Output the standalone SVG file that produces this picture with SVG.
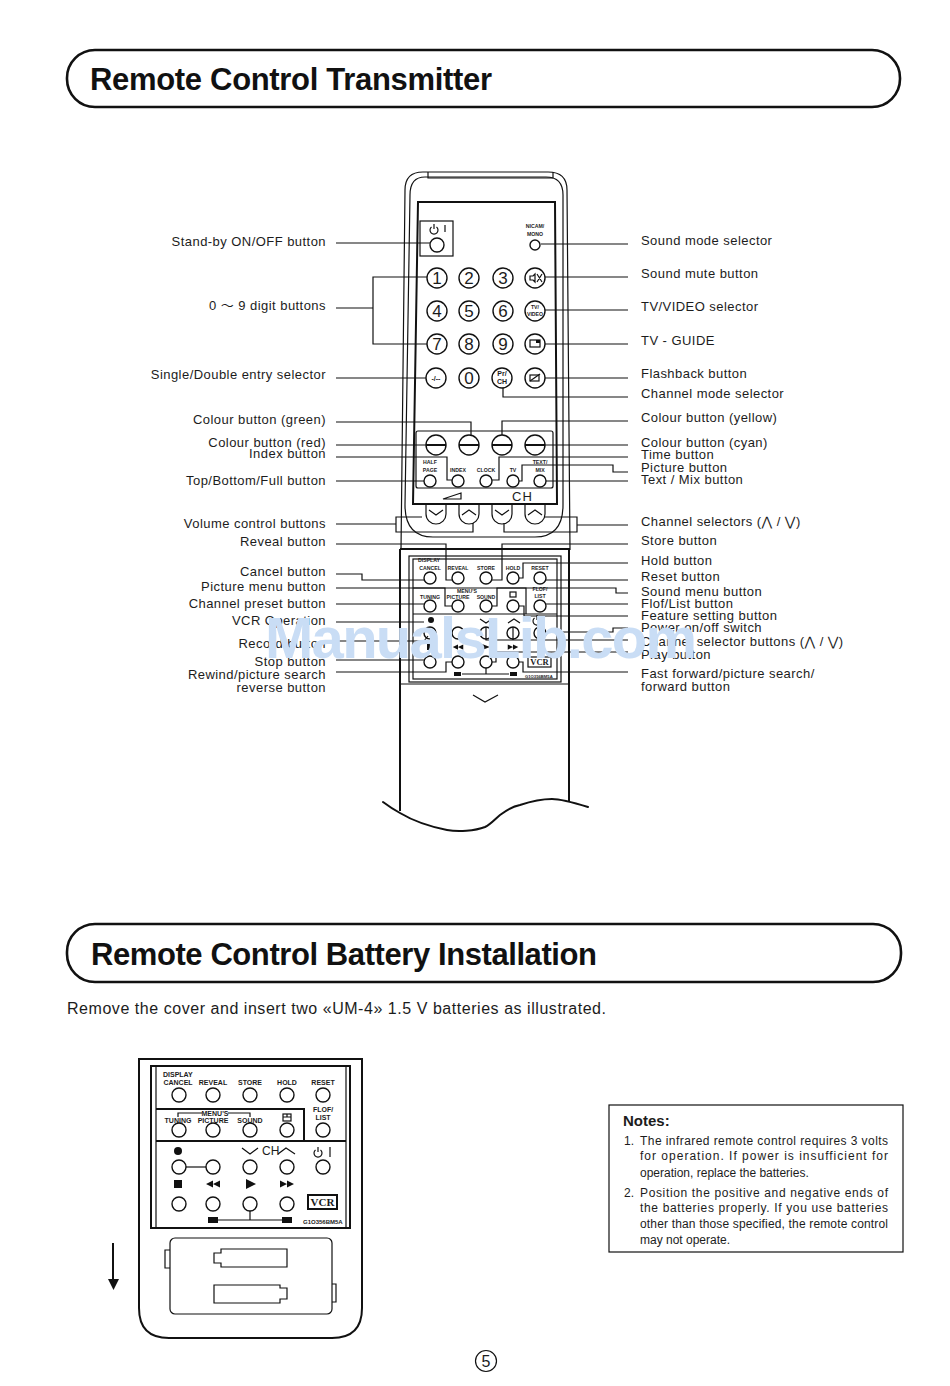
<svg xmlns="http://www.w3.org/2000/svg" width="950" height="1386" viewBox="0 0 950 1386">
<style>
text{font-family:"Liberation Sans","DejaVu Sans","Noto Sans CJK JP",sans-serif;fill:#1c1c1c}
.l{font-size:13px;text-anchor:end;letter-spacing:.45px}
.r{font-size:13px;letter-spacing:.45px}
.h{font-size:31px;font-weight:bold;fill:#111}
.n{font-size:12px}
.s{font-size:5.2px;font-weight:bold;text-anchor:middle}
.b{font-size:7px;font-weight:bold;text-anchor:middle}
.d{font-size:17px;text-anchor:middle}
.ln{fill:none;stroke:#111;stroke-width:1.2}
.th{fill:none;stroke:#111;stroke-width:2}
.fr{fill:none;stroke:#111;stroke-width:2.6}
.c{fill:#fff;stroke:#111;stroke-width:1.4}
.f{fill:#111;stroke:none}
.wm{font-family:"Liberation Sans",sans-serif;font-size:58px;font-weight:bold;fill:#c9ddf5}
</style>
<defs>
<circle id="sb" r="6" class="c"/>
<circle id="lb" r="7" class="c"/>
<circle id="db" r="10" class="c"/>
<path id="ff" class="f" d="M-7-3.5 0 0-7 3.5ZM0-3.5 7 0 0 3.5Z"/>
<path id="rw" class="f" d="M7-3.5 0 0 7 3.5ZM0-3.5-7 0 0 3.5Z"/>
<g id="cb"><circle r="10" class="c"/><path d="M-10 0H10" class="th"/></g>
<path id="ub" class="ln" d="M-10-19V-9A10 10 0 0 0 10-9V-19"/>
<g id="pw"><path class="ln" d="M-2.5-3A4 4 0 1 0 2.5-3M0-6V-1"/></g>
</defs>
<rect width="950" height="1386" fill="#fff"/>

<g id="title-transmitter">
<rect x="67" y="50" width="833" height="57" rx="28" class="fr"/>
<text class="h" x="90" y="90" textLength="402">Remote Control Transmitter</text>
</g>

<g id="remote-body">
<path class="ln" d="M405 190Q405 172 423 172H548Q567 172 567 190L570 550M405 190L401 550M410 195Q410 177 425 177H546Q563 177 563 195V505Q563 537 535 537H433Q405 537 405 505Z"/>
<path class="ln" d="M428 172V178H553V172"/>
<path class="th" d="M418 202H555L557 504H413Z"/>
<rect x="420" y="221" width="33" height="35" class="ln"/>
<rect x="416" y="431" width="137" height="57" rx="2" class="ln"/>
<path class="th" d="M400 549H570"/>
<path class="th" d="M400 549V811M569 549V801"/>
<path class="ln" d="M401 684H569"/>
<path class="th" stroke-linecap="round" d="M383 802Q391 808 400 813C415 822 432 827 447 830C458 832 475 831 485 827C491 824 494 820 500 815C508 809 514 806 520 805C532 801 542 799 552 799C562 799 575 803 588 807"/>
<path class="ln" d="M473 695 485 702 498 695"/>
<rect x="409" y="556" width="152" height="126" class="ln"/>
<rect x="413" y="559" width="144" height="120" class="ln"/>
<path class="ln" d="M413 588H526V614M413 614H557"/>
<path class="ln" d="M443 499 461 493V499Z"/>
<text x="512" y="501" style="font-size:13px;letter-spacing:1px">CH</text>
</g>

<g id="top-buttons">
<use href="#lb" x="437" y="245"/><use href="#pw" x="434" y="230"/><path class="ln" d="M445 225V232"/>
<circle cx="535" cy="245" r="5" class="c"/>
<text class="s" x="535" y="228">NICAM/</text><text class="s" x="535" y="236">MONO</text>
<use href="#db" x="437" y="278"/><text class="d" x="437" y="284">1</text>
<use href="#db" x="469" y="278"/><text class="d" x="469" y="284">2</text>
<use href="#db" x="503" y="278"/><text class="d" x="503" y="284">3</text>
<use href="#db" x="535" y="278"/><path class="ln" d="M530 276H533L535 274V282L533 280H530ZM537 274 542 282M542 274 537 282"/>
<use href="#db" x="437" y="311"/><text class="d" x="437" y="317">4</text>
<use href="#db" x="469" y="311"/><text class="d" x="469" y="317">5</text>
<use href="#db" x="503" y="311"/><text class="d" x="503" y="317">6</text>
<use href="#db" x="535" y="311"/><text class="s" x="535" y="309">TV/</text><text class="s" x="535" y="316">VIDEO</text>
<use href="#db" x="437" y="344"/><text class="d" x="437" y="350">7</text>
<use href="#db" x="469" y="344"/><text class="d" x="469" y="350">8</text>
<use href="#db" x="503" y="344"/><text class="d" x="503" y="350">9</text>
<use href="#db" x="535" y="344"/><rect x="530" y="340" width="10" height="7" class="ln"/><rect x="536" y="340" width="4" height="3" class="f"/>
<use href="#db" x="436" y="378"/><text class="b" x="436" y="381">-/--</text>
<use href="#db" x="469" y="378"/><text class="d" x="469" y="384">0</text>
<use href="#db" x="502" y="378"/><text class="b" x="502" y="376">Pr/</text><text class="b" x="502" y="384">CH</text>
<use href="#db" x="535" y="378"/><rect x="530" y="375" width="9" height="6" class="ln"/><path class="ln" d="M530 381 540 374"/>
</g>

<g id="colour-buttons">
<use href="#cb" x="436" y="445"/><use href="#cb" x="469" y="445"/><use href="#cb" x="502" y="445"/><use href="#cb" x="535" y="445"/>
<use href="#sb" x="430" y="481"/><use href="#sb" x="458" y="481"/><use href="#sb" x="486" y="481"/><use href="#sb" x="513" y="481"/><use href="#sb" x="540" y="481"/>
<text class="s" x="430" y="464">HALF</text><text class="s" x="430" y="472">PAGE</text>
<text class="s" x="458" y="472">INDEX</text><text class="s" x="486" y="472">CLOCK</text><text class="s" x="513" y="472">TV</text>
<text class="s" x="540" y="464">TEXT/</text><text class="s" x="540" y="472">MIX</text>
<use href="#ub" x="436" y="523"/><use href="#ub" x="469" y="523"/><use href="#ub" x="502" y="523"/><use href="#ub" x="535" y="523"/>
<path class="ln" d="M429 510 436 515 443 510M462 515 469 510 476 515M495 510 502 515 509 510M528 515 535 510 542 515"/>
</g>

<g id="lower-buttons">
<text class="s" x="418" y="562" style="text-anchor:start">DISPLAY</text>
<text class="s" x="430" y="570">CANCEL</text><text class="s" x="458" y="570">REVEAL</text><text class="s" x="486" y="570">STORE</text><text class="s" x="513" y="570">HOLD</text><text class="s" x="540" y="570">RESET</text>
<use href="#sb" x="430" y="578"/><use href="#sb" x="458" y="578"/><use href="#sb" x="486" y="578"/><use href="#sb" x="513" y="578"/><use href="#sb" x="540" y="578"/>
<text class="s" x="430" y="599">TUNING</text><text class="s" x="467" y="593">MENU'S</text><text class="s" x="458" y="599">PICTURE</text><text class="s" x="486" y="599">SOUND</text>
<rect x="510" y="592" width="6" height="5" class="ln"/>
<text class="s" x="540" y="591">FLOF/</text><text class="s" x="540" y="598">LIST</text>
<use href="#sb" x="430" y="606"/><use href="#sb" x="458" y="606"/><use href="#sb" x="486" y="606"/><use href="#sb" x="513" y="606"/><use href="#sb" x="540" y="606"/>
<circle cx="431" cy="620" r="3" class="f"/>
<path class="ln" d="M480 619 486 623 492 619M508 623 514 619 520 623"/>
<use href="#pw" x="537" y="621"/>
<use href="#sb" x="430" y="633"/><use href="#sb" x="458" y="633"/><use href="#sb" x="486" y="633"/><use href="#sb" x="513" y="633"/><use href="#sb" x="540" y="633"/>
<rect x="427" y="644" width="5" height="6" class="f"/>
<g transform="translate(458 647) scale(.75)"><use href="#rw"/></g>
<path class="f" d="M482 644 490 647 482 650Z"/>
<g transform="translate(513 647) scale(.75)"><use href="#ff"/></g>
<use href="#sb" x="430" y="662"/><use href="#sb" x="458" y="662"/><use href="#sb" x="486" y="662"/><use href="#sb" x="513" y="662"/>
<rect x="528" y="657" width="23" height="10" class="ln"/>
<text x="539.5" y="665" style="font-family:'Liberation Serif',serif;font-size:8.5px;font-weight:bold;text-anchor:middle">VCR</text>
<path class="ln" d="M462 674H509M486 668V674"/>
<rect x="454" y="672" width="7" height="4" class="f"/><rect x="510" y="672" width="7" height="4" class="f"/>
<text x="525" y="678" style="font-size:4.2px;font-weight:bold">G1O356BM5A</text>
</g>

<g id="connectors">
<path class="ln" d="M336 243H430M336 308H373M427 277H373V344H427M336 378H426M336 422H471V435M336 445H426M336 457H447V480H452M336 481H424"/>
<path class="ln" d="M336 524H396M422 517H396V532H473V523M545 517H577V532H504V523M577 525H628"/>
<path class="ln" d="M336 544H446V580H452M628 544H502V580H492M628 563H523V578H519M628 580H546"/>
<path class="ln" d="M336 574H362V580H424M336 588H445V606H452M336 604H424M336 622H424M336 641H424L428 636M336 660H424M336 672H446V662H452"/>
<path class="ln" d="M541 244H628M545 277H628M545 310H628M545 344H628M545 378H628M503 388V397H628M628 421H502V435M545 445H628M628 457H499V480H492M628 472H613V465H522V481H519M546 481H628"/>
<path class="ln" d="M628 593H616V588H497V606H492M546 604H628M519 606H524V616H628M628 628H613V632H546M628 640H486V627M513 640V627M628 652H496V662H492M519 662H523V672H628"/>
</g>

<g id="labels-left">
<text class="l" x="326" y="246">Stand-by ON/OFF button</text>
<text class="l" x="326" y="310">0 〜 9 digit buttons</text>
<text class="l" x="326" y="379">Single/Double entry selector</text>
<text class="l" x="326" y="424">Colour button (green)</text>
<text class="l" x="326" y="447">Colour button (red)</text>
<text class="l" x="326" y="458">Index button</text>
<text class="l" x="326" y="485">Top/Bottom/Full button</text>
<text class="l" x="326" y="528">Volume control buttons</text>
<text class="l" x="326" y="546">Reveal button</text>
<text class="l" x="326" y="576">Cancel button</text>
<text class="l" x="326" y="591">Picture menu button</text>
<text class="l" x="326" y="608">Channel preset button</text>
<text class="l" x="326" y="625">VCR Operation</text>
<text class="l" x="326" y="648">Record button</text>
<text class="l" x="326" y="666">Stop button</text>
<text class="l" x="326" y="679">Rewind/picture search</text>
<text class="l" x="326" y="692">reverse button</text>
</g>

<g id="labels-right">
<text class="r" x="641" y="245">Sound mode selector</text>
<text class="r" x="641" y="278">Sound mute button</text>
<text class="r" x="641" y="311">TV/VIDEO selector</text>
<text class="r" x="641" y="345">TV - GUIDE</text>
<text class="r" x="641" y="378">Flashback button</text>
<text class="r" x="641" y="398">Channel mode selector</text>
<text class="r" x="641" y="422">Colour button (yellow)</text>
<text class="r" x="641" y="447">Colour button (cyan)</text>
<text class="r" x="641" y="459">Time button</text>
<text class="r" x="641" y="472">Picture button</text>
<text class="r" x="641" y="484">Text / Mix button</text>
<text class="r" x="641" y="526">Channel selectors (⋀ / ⋁)</text>
<text class="r" x="641" y="545">Store button</text>
<text class="r" x="641" y="565">Hold button</text>
<text class="r" x="641" y="581">Reset button</text>
<text class="r" x="641" y="596">Sound menu button</text>
<text class="r" x="641" y="608">Flof/List button</text>
<text class="r" x="641" y="620">Feature setting button</text>
<text class="r" x="641" y="632">Power on/off switch</text>
<text class="r" x="641" y="646">Channel selector buttons (⋀ / ⋁)</text>
<text class="r" x="641" y="659">Play button</text>
<text class="r" x="641" y="678">Fast forward/picture search/</text>
<text class="r" x="641" y="691">forward button</text>
</g>

<g id="title-battery">
<rect x="67" y="924" width="834" height="58" rx="28" class="fr"/>
<text class="h" x="91" y="965" textLength="506">Remote Control Battery Installation</text>
</g>
<text id="intro" x="67" y="1014" textLength="539" style="font-size:16px">Remove the cover and insert two «UM-4» 1.5 V batteries as illustrated.</text>

<g id="battery-remote">
<path class="th" d="M139 1059H362V1308Q362 1338 332 1338H169Q139 1338 139 1308Z"/>
<rect x="151" y="1066" width="199" height="162" class="th"/>
<path class="ln" d="M156 1066V1228M346 1066V1228"/>
<path class="th" d="M156 1109H304V1141M156 1141H346"/>
<text x="163" y="1077" style="font-size:7px;font-weight:bold">DISPLAY</text>
<text class="b" x="178" y="1085">CANCEL</text><text class="b" x="213" y="1085">REVEAL</text><text class="b" x="250" y="1085">STORE</text><text class="b" x="287" y="1085">HOLD</text><text class="b" x="323" y="1085">RESET</text>
<text class="b" x="178" y="1123">TUNING</text><text class="b" x="213" y="1123">PICTURE</text><text class="b" x="250" y="1123">SOUND</text>
<text class="b" x="215" y="1116">MENU'S</text>
<text class="b" x="323" y="1112">FLOF/</text><text class="b" x="323" y="1120">LIST</text>
<path class="ln" d="M178 1117V1113H202M228 1113H250V1117"/>
<rect x="283" y="1114" width="8" height="7" class="ln"/><path class="ln" d="M283 1117H291M287 1114V1117"/>
<use href="#lb" x="179" y="1095"/><use href="#lb" x="213" y="1095"/><use href="#lb" x="250" y="1095"/><use href="#lb" x="287" y="1095"/><use href="#lb" x="323" y="1095"/>
<use href="#lb" x="179" y="1130"/><use href="#lb" x="213" y="1130"/><use href="#lb" x="250" y="1130"/><use href="#lb" x="287" y="1130"/><use href="#lb" x="323" y="1130"/>
<circle cx="178" cy="1151" r="4" class="f"/>
<path class="ln" d="M242 1148 250 1154 258 1148M278 1154 286 1148 295 1154"/>
<text x="262" y="1155" style="font-size:12px">CH</text>
<use href="#pw" x="318" y="1153"/><path class="ln" d="M330 1147V1157"/>
<path class="ln" d="M186 1167H206"/>
<use href="#lb" x="179" y="1167"/><use href="#lb" x="213" y="1167"/><use href="#lb" x="250" y="1167"/><use href="#lb" x="287" y="1167"/><use href="#lb" x="323" y="1167"/>
<rect x="174" y="1180" width="8" height="8" class="f"/>
<use href="#rw" x="213" y="1184"/><path class="f" d="M246 1179 256 1184 246 1189Z"/><use href="#ff" x="287" y="1184"/>
<use href="#lb" x="179" y="1204"/><use href="#lb" x="213" y="1204"/><use href="#lb" x="250" y="1204"/><use href="#lb" x="287" y="1204"/>
<rect x="308" y="1195" width="29" height="14" class="th"/>
<text x="322.5" y="1206" style="font-family:'Liberation Serif',serif;font-size:11px;font-weight:bold;text-anchor:middle">VCR</text>
<path class="ln" d="M215 1220H285M250 1211V1220"/>
<rect x="208" y="1217" width="10" height="6" class="f"/><rect x="282" y="1217" width="10" height="6" class="f"/>
<text x="303" y="1224" style="font-size:6px;font-weight:bold">G1O356BM5A</text>
<path class="ln" d="M170 1250H165V1268H170M332 1284H336V1302H332"/>
<rect x="170" y="1238" width="162" height="76" rx="5" class="ln"/>
<path class="ln" d="M221 1249H287V1267H221V1263H214V1253H221Z"/>
<path class="ln" d="M214 1285H280V1288H287V1299H280V1303H214Z"/>
</g>

<g id="arrow"><path class="th" d="M113 1243V1280"/><path class="f" d="M108 1279H119L113.500 1290Z"/></g>

<g id="notes">
<rect x="609" y="1105" width="294" height="147" class="ln"/>
<text x="623" y="1126" style="font-size:15px;font-weight:bold">Notes:</text>
<text class="n" x="624" y="1145">1.</text>
<text class="n" x="640" y="1145" textLength="248">The infrared remote control requires 3 volts</text>
<text class="n" x="640" y="1160" textLength="248">for operation. If power is insufficient for</text>
<text class="n" x="640" y="1177">operation, replace the batteries.</text>
<text class="n" x="624" y="1197">2.</text>
<text class="n" x="640" y="1197" textLength="248">Position the positive and negative ends of</text>
<text class="n" x="640" y="1212" textLength="248">the batteries properly. If you use batteries</text>
<text class="n" x="640" y="1228" textLength="248">other than those specified, the remote control</text>
<text class="n" x="640" y="1244">may not operate.</text>
</g>

<g id="page-number"><circle cx="486" cy="1361" r="10.500" class="ln"/><text x="486" y="1367" style="font-size:16px;text-anchor:middle">5</text></g>

<text id="watermark" class="wm" x="265" y="658" textLength="432">ManualsLib.com</text>
</svg>
